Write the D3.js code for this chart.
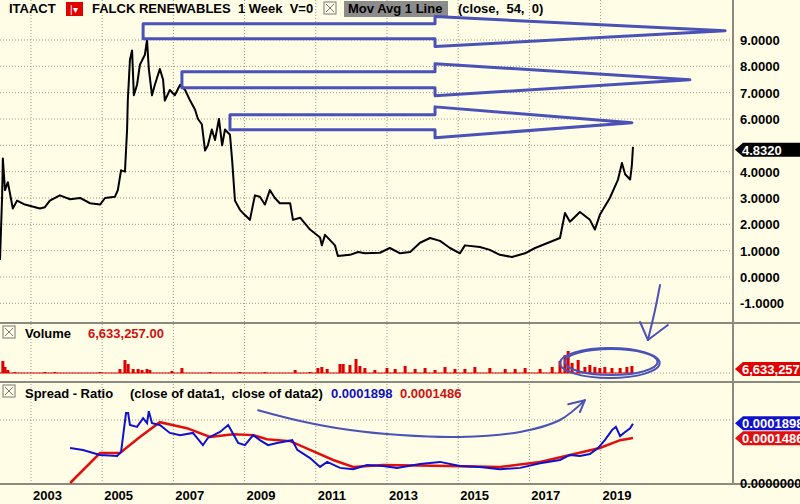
<!DOCTYPE html>
<html>
<head>
<meta charset="utf-8">
<script src="https://cdn.jsdelivr.net/npm/d3@7"></script>
<style>
    body { margin: 0; background: #fffde6; }
    svg { display: block; font-family: "Liberation Sans", Arial, sans-serif; }
    .lbl { font-weight: bold; font-size: 12px; }
    .hd { font-weight: bold; font-size: 13px; }
    .grid line { stroke: #9a9a80; stroke-dasharray: 1,2; }
</style>
</head>
<body>
<div id="chart"></div>
<script>
const priceYears = [2002.13, 2002.19, 2002.21, 2002.27, 2002.35, 2002.49, 2002.61, 2002.83, 2003.25, 2003.39, 2003.53, 2003.81, 2004.10, 2004.38, 2004.66, 2004.94, 2005.08, 2005.36, 2005.44, 2005.53, 2005.64, 2005.70, 2005.72, 2005.78, 2005.84, 2005.89, 2005.98, 2006.06, 2006.20, 2006.26, 2006.31, 2006.40, 2006.48, 2006.62, 2006.71, 2006.76, 2006.90, 2007.04, 2007.19, 2007.33, 2007.47, 2007.61, 2007.69, 2007.80, 2007.89, 2007.97, 2008.08, 2008.17, 2008.28, 2008.37, 2008.45, 2008.59, 2008.65, 2008.73, 2008.87, 2009.01, 2009.15, 2009.29, 2009.43, 2009.57, 2009.71, 2009.85, 2009.99, 2010.28, 2010.36, 2010.56, 2010.84, 2011.12, 2011.17, 2011.26, 2011.54, 2011.62, 2011.96, 2012.19, 2012.38, 2012.80, 2013.08, 2013.37, 2013.65, 2013.93, 2014.21, 2014.49, 2014.77, 2015.05, 2015.19, 2015.61, 2015.89, 2016.17, 2016.51, 2016.88, 2017.16, 2017.58, 2017.86, 2018.00, 2018.14, 2018.42, 2018.70, 2018.84, 2018.98, 2019.26, 2019.49, 2019.60, 2019.69, 2019.83, 2019.88, 2019.91];
const priceValues = [0.65, 3.1, 4.5, 3.3, 3.6, 2.6, 2.9, 2.75, 2.6, 2.65, 2.9, 3.1, 2.95, 3.0, 2.8, 2.75, 3.0, 3.05, 3.3, 4.05, 4.0, 5.6, 6.7, 8.25, 8.6, 6.9, 7.3, 8.06, 8.44, 9.0, 7.9, 6.9, 7.3, 7.9, 7.5, 6.7, 7.1, 6.9, 7.3, 7.1, 6.7, 6.35, 6.0, 5.8, 4.8, 5.0, 5.6, 5.2, 6.0, 5.0, 5.6, 5.4, 4.45, 2.9, 2.55, 2.35, 2.17, 3.1, 3.05, 2.75, 3.3, 3.0, 2.8, 2.8, 2.17, 2.25, 1.8, 1.5, 1.2, 1.6, 1.2, 0.8, 0.84, 0.95, 0.9, 0.92, 1.1, 0.9, 0.95, 1.3, 1.48, 1.37, 1.1, 0.9, 1.2, 1.14, 1.03, 0.84, 0.76, 0.9, 1.1, 1.33, 1.48, 2.43, 2.1, 2.47, 2.17, 1.8, 2.36, 3.0, 3.7, 4.33, 3.9, 3.7, 4.26, 4.94];

// volume (millions)
const volYears = [2002.21, 2002.27, 2002.35, 2002.55, 2003.39, 2003.67, 2004.94, 2005.50, 2005.64, 2005.73, 2005.87, 2006.01, 2006.12, 2006.26, 2006.34, 2006.96, 2007.24, 2008.03, 2008.87, 2009.57, 2010.42, 2010.84, 2011.06, 2011.17, 2011.32, 2011.68, 2011.77, 2011.96, 2012.13, 2012.24, 2012.38, 2012.66, 2013.00, 2013.23, 2013.51, 2013.79, 2014.07, 2014.35, 2014.63, 2014.91, 2015.19, 2015.47, 2015.89, 2016.32, 2016.60, 2016.88, 2017.30, 2017.64, 2017.86, 2018.00, 2018.09, 2018.20, 2018.37, 2018.56, 2018.70, 2018.84, 2018.98, 2019.12, 2019.32, 2019.55, 2019.74, 2019.88];
const volValues = [12, 6, 3, 1, 1, 1, 1, 4, 13, 9, 4, 4, 3, 4, 3, 2, 5, 1, 1, 1, 3, 1, 5, 6, 4, 9, 9, 8, 14, 7, 5, 3, 5, 4, 7, 4, 5, 3, 6, 4, 4, 6, 5, 4, 4, 5, 4, 6, 12, 18, 22, 10, 13, 6, 8, 6, 5, 6, 5, 5, 6, 7];

// spread ratio (close of data1 / close of data2, x 1e-4) and its average
const ratioYears = [2004.10, 2004.46, 2004.94, 2005.42, 2005.53, 2005.67, 2005.73, 2005.78, 2005.98, 2006.15, 2006.26, 2006.31, 2006.40, 2006.62, 2006.90, 2007.19, 2007.55, 2007.83, 2007.97, 2008.31, 2008.54, 2008.65, 2008.82, 2009.01, 2009.24, 2009.43, 2009.66, 2009.91, 2010.34, 2010.48, 2010.84, 2011.12, 2011.32, 2011.68, 2012.05, 2012.44, 2012.89, 2013.28, 2013.93, 2014.49, 2015.05, 2015.61, 2016.17, 2016.74, 2017.30, 2017.86, 2018.14, 2018.42, 2018.70, 2018.93, 2019.12, 2019.32, 2019.43, 2019.55, 2019.69, 2019.83, 2019.91];
const ratioValues = [1.11, 1.05, 0.89, 0.86, 0.98, 2.22, 2.22, 1.84, 1.78, 2.06, 1.90, 2.28, 1.90, 1.84, 1.59, 1.52, 1.59, 1.20, 1.43, 1.62, 1.84, 1.62, 1.27, 1.20, 1.52, 1.36, 1.20, 1.27, 1.36, 1.05, 0.79, 0.51, 0.67, 0.48, 0.44, 0.57, 0.54, 0.48, 0.60, 0.67, 0.54, 0.51, 0.44, 0.48, 0.63, 0.73, 0.89, 0.86, 0.92, 1.11, 1.36, 1.68, 1.78, 1.49, 1.62, 1.74, 1.88];
const avgYears = [2004.10, 2004.94, 2005.50, 2006.06, 2006.62, 2007.38, 2008.03, 2008.68, 2009.24, 2009.63, 2010.28, 2010.84, 2011.49, 2012.05, 2012.89, 2014.77, 2016.17, 2017.30, 2018.14, 2018.98, 2019.55, 2019.91];
const avgValues = [0.0, 0.95, 0.95, 1.46, 1.93, 1.74, 1.46, 1.55, 1.52, 1.39, 1.33, 1.05, 0.73, 0.51, 0.57, 0.54, 0.51, 0.67, 0.89, 1.11, 1.36, 1.43];

const yearTicks = [2003, 2005, 2007, 2009, 2011, 2013, 2015, 2017, 2019];
const priceTicks = [9, 8, 7, 6, 5, 4, 3, 2, 1, 0, -1];

// hand-drawn annotations, in data units
const arrowTops = [[2006.15, 9.62, 9.05, 9.89, 8.75, 2022.5, 9.35],
                   [2007.24, 7.79, 7.19, 8.10, 6.88, 2021.51, 7.49],
                   [2008.59, 6.16, 5.59, 6.46, 5.29, 2019.88, 5.86]];
const arrowNeck = 2014.35;
const squiggle = [[2009.38, 2.31], [2010.56, 1.97], [2011.96, 1.68], [2013.37, 1.52], [2015.05, 1.46], [2016.74, 1.62], [2017.86, 2.0], [2018.56, 2.63]];
const squiggleHead = [[2018.09, 2.50], [2018.56, 2.63], [2018.42, 2.25]];
const volArrow = [[2020.67, 88], [2020.53, 63], [2020.33, 33]];
const volArrowHead = [[2020.11, 51], [2020.33, 33], [2020.89, 48]];

const width = 800, height = 504;
const plotRight = 733;

const svg = d3.select('#chart').append('svg').attr('width', width).attr('height', height);

const x = d3.scaleLinear().domain([2002.13, 2022.72]).range([0, plotRight]);
const y = d3.scaleLinear().domain([-1, 9]).range([303.3, 40]);
const yVol = d3.scaleLinear().domain([0, 30]).range([373, 343]);
const yRatio = d3.scaleLinear().domain([0, 2]).range([483, 420]);

// grids
const grid = svg.append('g').attr('class', 'grid');
grid.selectAll('.vg').data(yearTicks).enter().append('line')
    .attr('x1', d => x(d)).attr('x2', d => x(d)).attr('y1', 0).attr('y2', 484);
grid.selectAll('.hg').data(priceTicks).enter().append('line')
    .attr('x1', 0).attr('x2', plotRight).attr('y1', d => y(d)).attr('y2', d => y(d));
grid.append('line').attr('x1', 0).attr('x2', plotRight).attr('y1', yVol(0)).attr('y2', yVol(0));
grid.append('line').attr('x1', 0).attr('x2', plotRight).attr('y1', yRatio(2)).attr('y2', yRatio(2));

// panel separators + right axis
[323, 382, 484].forEach(v => {
    svg.append('line').attr('x1', 0).attr('x2', width).attr('y1', v).attr('y2', v)
        .attr('stroke', '#8a8a80').attr('stroke-width', 2);
});
svg.append('line').attr('x1', plotRight).attr('x2', plotRight).attr('y1', 0).attr('y2', 484)
    .attr('stroke', '#8a8a80').attr('stroke-width', 2);

// right axis labels (skip the ones fully hidden behind value tags)
svg.selectAll('.pt').data(priceTicks.filter(d => d !== 5)).enter().append('text')
    .attr('class', 'hd').attr('x', 740).attr('y', d => y(d) + 5).text(d => d.toFixed(4));
svg.append('text').attr('class', 'hd').attr('x', 740).attr('y', yRatio(0) + 5).text('0.0000000');

// bottom year labels
svg.selectAll('.yt').data(yearTicks).enter().append('text')
    .attr('class', 'hd').attr('x', d => x(d) + 2).attr('y', 500).text(d => d);

// price line
const priceData = priceYears.map((d, i) => [d, priceValues[i]]);
svg.append('path').datum(priceData)
    .attr('fill', 'none').attr('stroke', '#000').attr('stroke-width', 2)
    .attr('stroke-linejoin', 'round')
    .attr('d', d3.line().x(d => x(d[0])).y(d => y(d[1])));

// volume bars
svg.selectAll('.bar').data(volYears).enter().append('rect')
    .attr('x', d => x(d) - 1.5).attr('width', 3)
    .attr('y', (d, i) => yVol(volValues[i]))
    .attr('height', (d, i) => yVol(0) - yVol(volValues[i]))
    .attr('fill', '#e00000');
svg.append('line').attr('x1', 0).attr('x2', x(2019.91)).attr('y1', yVol(0)).attr('y2', yVol(0))
    .attr('stroke', '#e00000').attr('stroke-width', 1);

// ratio lines
const ratioLine = d3.line().x(d => x(d[0])).y(d => yRatio(d[1]));
svg.append('path').datum(avgYears.map((d, i) => [d, avgValues[i]]))
    .attr('fill', 'none').attr('stroke', '#e01010').attr('stroke-width', 2.5).attr('d', ratioLine);
svg.append('path').datum(ratioYears.map((d, i) => [d, ratioValues[i]]))
    .attr('fill', 'none').attr('stroke', '#1010d0').attr('stroke-width', 2).attr('d', ratioLine);

// headers
function closeBox(g, bx, by) {
    g.append('rect').attr('x', bx).attr('y', by).attr('width', 12).attr('height', 12)
        .attr('fill', 'none').attr('stroke', '#777');
    g.append('path').attr('d', `M${bx + 2},${by + 2}L${bx + 10},${by + 10}M${bx + 10},${by + 2}L${bx + 2},${by + 10}`)
        .attr('stroke', '#777');
}
const hdr = svg.append('g');
hdr.append('text').attr('class', 'hd').attr('x', 9).attr('y', 13).text('ITAACT');
hdr.append('rect').attr('x', 66).attr('y', 2).attr('width', 17).attr('height', 14).attr('fill', '#e00000');
hdr.append('text').attr('x', 70).attr('y', 13).attr('font-size', 10).attr('fill', '#fff').text('|▾');
hdr.append('text').attr('class', 'hd').attr('x', 92).attr('y', 13).attr('xml:space', 'preserve')
    .text('FALCK RENEWABLES  1 Week  V=0');
closeBox(hdr, 324, 2);
hdr.append('rect').attr('x', 344).attr('y', 1).attr('width', 104).attr('height', 16).attr('fill', '#8c8c8c');
hdr.append('text').attr('class', 'hd').attr('x', 348).attr('y', 13).text('Mov Avg 1 Line');
hdr.append('text').attr('class', 'hd').attr('x', 458).attr('y', 13).attr('xml:space', 'preserve').text('(close,  54,  0)');

closeBox(hdr, 3, 326);
hdr.append('text').attr('class', 'hd').attr('x', 25).attr('y', 338).text('Volume');
hdr.append('text').attr('class', 'hd').attr('x', 88).attr('y', 338).attr('fill', '#d01010').text('6,633,257.00');

closeBox(hdr, 3, 385);
hdr.append('text').attr('class', 'hd').attr('x', 25).attr('y', 398).text('Spread - Ratio');
hdr.append('text').attr('class', 'hd').attr('x', 130).attr('y', 398).attr('xml:space', 'preserve')
    .text('(close of data1,  close of data2)');
hdr.append('text').attr('class', 'hd').attr('x', 331).attr('y', 398).attr('fill', '#1010c0').text('0.0001898');
hdr.append('text').attr('class', 'hd').attr('x', 400).attr('y', 398).attr('fill', '#d01010').text('0.0001486');

// value tags on right axis
function tag(yPos, fill, txt) {
    svg.append('path').attr('d', `M${plotRight + 2},${yPos}L${plotRight + 10},${yPos - 7}H${width}V${yPos + 7}H${plotRight + 10}Z`)
        .attr('fill', fill);
    svg.append('text').attr('class', 'hd').attr('x', plotRight + 9).attr('y', yPos + 5)
        .attr('fill', '#fff').text(txt);
}
tag(y(4.832), '#000', '4.8320');
tag(369, '#e00000', '6,633,257');
tag(yRatio(1.898), '#1010d0', '0.0001898');
tag(yRatio(1.486) + 2, '#e01010', '0.0001486');

// annotations
const ann = svg.append('g').attr('fill', 'none').attr('stroke', '#4a52b8').attr('stroke-width', 3)
    .attr('stroke-linejoin', 'round').attr('stroke-linecap', 'round');
arrowTops.forEach(a => {
    const [x0, top, bot, flareTop, flareBot, tipX, tipY] = a;
    const pts = [[arrowNeck, top], [x0, top], [x0, bot], [arrowNeck, bot], [arrowNeck, flareBot], [tipX, tipY], [arrowNeck, flareTop], [arrowNeck, top]];
    ann.append('path').attr('d', d3.line().x(d => x(d[0])).y(d => y(d[1]))(pts));
});
ann.append('path').attr('d', d3.line().curve(d3.curveCatmullRom).x(d => x(d[0])).y(d => yRatio(d[1]))(squiggle))
    .attr('stroke-width', 2);
ann.append('path').attr('d', d3.line().x(d => x(d[0])).y(d => yRatio(d[1]))(squiggleHead)).attr('stroke-width', 2);
[[2019.26, 10, 1.4, 15], [2019.3, 11, 1.3, 13]].forEach(e => {
    ann.append('ellipse').attr('cx', x(e[0])).attr('cy', yVol(e[1]))
        .attr('rx', x(e[0] + e[2]) - x(e[0])).attr('ry', yVol(0) - yVol(e[3])).attr('stroke-width', 2);
});
ann.append('path').attr('d', d3.line().curve(d3.curveCatmullRom).x(d => x(d[0])).y(d => yVol(d[1]))(volArrow)).attr('stroke-width', 2);
ann.append('path').attr('d', d3.line().x(d => x(d[0])).y(d => yVol(d[1]))(volArrowHead)).attr('stroke-width', 2);
</script>
</body>
</html>
